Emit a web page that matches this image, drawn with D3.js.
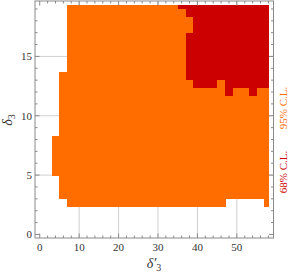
<!DOCTYPE html>
<html>
<head>
<meta charset="utf-8">
<script src="https://cdn.jsdelivr.net/npm/d3@7"></script>
<style>
  body { margin: 0; background: #fff; }
  svg text { font-family: "Liberation Serif", "Times New Roman", serif; }
</style>
</head>
<body>
<div id="chart"></div>
<script>
// grid points of the scan (delta'_3 along x, delta_3 along y)
var xVals = [0, 2, 4, 6, 8, 10, 12, 14, 16, 18, 20, 22, 24, 26, 28,
             30, 32, 34, 36, 38, 40, 42, 44, 46, 48, 50, 52, 54, 56, 58];
var yVals = [0, 2/3, 4/3, 2, 8/3, 10/3, 4, 14/3, 16/3, 6, 20/3, 22/3, 8, 26/3, 28/3,
             10, 32/3, 34/3, 12, 38/3, 40/3, 14, 44/3, 46/3, 16, 50/3, 52/3, 18, 56/3, 58/3];

// allowed level per grid point, top row first (y = 58/3 ... 0), groups of 5 columns
// "." = excluded, "o" = 95% C.L., "r" = 68% C.L.
var levels = [
  "....o ooooo ooooo ooorr rrrrr rrrrr",
  "....o ooooo ooooo oooor rrrrr rrrrr",
  "....o ooooo ooooo ooooo rrrrr rrrrr",
  "....o ooooo ooooo ooooo rrrrr rrrrr",
  "....o ooooo ooooo oooor rrrrr rrrrr",
  "....o ooooo ooooo oooor rrrrr rrrrr",
  "....o ooooo ooooo oooor rrrrr rrrrr",
  "....o ooooo ooooo oooor rrrrr rrrrr",
  "....o ooooo ooooo oooor rrrrr rrrrr",
  "...oo ooooo ooooo oooor rrrrr rrrrr",
  "...oo ooooo ooooo ooooo rrror rrrrr",
  "...oo ooooo ooooo ooooo oooor ooroo",
  "...oo ooooo ooooo ooooo ooooo ooooo",
  "...oo ooooo ooooo ooooo ooooo ooooo",
  "...oo ooooo ooooo ooooo ooooo ooooo",
  "...oo ooooo ooooo ooooo ooooo ooooo",
  "...oo ooooo ooooo ooooo ooooo ooooo",
  "..ooo ooooo ooooo ooooo ooooo ooooo",
  "..ooo ooooo ooooo ooooo ooooo ooooo",
  "..ooo ooooo ooooo ooooo ooooo ooooo",
  "..ooo ooooo ooooo ooooo ooooo ooooo",
  "..ooo ooooo ooooo ooooo ooooo ooooo",
  "...oo ooooo ooooo ooooo ooooo ooooo",
  "...oo ooooo ooooo ooooo ooooo ooooo",
  "...oo ooooo ooooo ooooo ooooo ooooo",
  "....o ooooo ooooo ooooo oooo. ....o",
  "..... ..... ..... ..... ..... .....",
  "..... ..... ..... ..... ..... .....",
  "..... ..... ..... ..... ..... .....",
  "..... ..... ..... ..... ..... ....."
];

var xMajor = [0, 10, 20, 30, 40, 50];
var yMajor = [0, 5, 10, 15];
var yMinorVals = [1, 2, 3, 4, 6, 7, 8, 9, 11, 12, 13, 14, 16, 17, 18, 19];
var levelNames = ["95% C.L.", "68% C.L."];
var levelColors = {o: "#ff6d00", r: "#cc0000"};

var width = 291, height = 276;
var pLeft = 35, pRight = 273.5, pTop = 1, pBottom = 238;

var x = d3.scaleLinear().domain([-1.2, 59.3]).range([pLeft, pRight]);
var y = d3.scaleLinear().domain([-0.3, 19.67]).range([pBottom, pTop]);

var svg = d3.select("#chart").append("svg")
  .attr("width", width)
  .attr("height", height);

// grid lines
svg.append("g").selectAll("line")
  .data(xMajor.slice(1))
  .enter().append("line")
  .attr("x1", function(d){ return x(d); })
  .attr("x2", function(d){ return x(d); })
  .attr("y1", pTop).attr("y2", pBottom)
  .attr("stroke", "#d0d0d0").attr("stroke-width", 1);
svg.append("g").selectAll("line")
  .data(yMajor.slice(1))
  .enter().append("line")
  .attr("y1", function(d){ return y(d); })
  .attr("y2", function(d){ return y(d); })
  .attr("x1", pLeft).attr("x2", pRight)
  .attr("stroke", "#d0d0d0").attr("stroke-width", 1);

// cells
var cells = [];
var nRows = yVals.length;
levels.forEach(function(rowStr, r){
  var row = rowStr.replace(/ /g, "");
  var j = nRows - 1 - r;
  for (var i = 0; i < row.length; i++) {
    if (row[i] !== ".") cells.push({i: i, j: j, lev: row[i]});
  }
});

var xStep = xVals[1] - xVals[0], yStep = yVals[1] - yVals[0];
var xMax = xVals[xVals.length - 1], yMax = yVals[yVals.length - 1];
function cx0(d){ return x(Math.max(xVals[d.i] - xStep / 2, 0)); }
function cx1(d){ return x(Math.min(xVals[d.i] + xStep / 2, xMax)); }
function cy0(d){ return y(Math.max(yVals[d.j] - yStep / 2, 0)); }
function cy1(d){ return y(Math.min(yVals[d.j] + yStep / 2, yMax)); }

svg.append("g").attr("shape-rendering", "crispEdges")
  .selectAll("rect")
  .data(cells)
  .enter().append("rect")
  .attr("x", cx0)
  .attr("width", function(d){ return cx1(d) - cx0(d) + 0.5; })
  .attr("y", cy1)
  .attr("height", function(d){ return cy0(d) - cy1(d) + 0.5; })
  .attr("fill", function(d){ return levelColors[d.lev]; });

// frame + ticks
var frameColor = "#8a8a8a";
function ticks(vals, len, side) {
  var g = svg.append("g").attr("stroke", frameColor).attr("stroke-width", 1);
  vals.forEach(function(v){
    if (side === "bottom") g.append("line").attr("x1", x(v)).attr("x2", x(v)).attr("y1", pBottom).attr("y2", pBottom - len);
    if (side === "top") g.append("line").attr("x1", x(v)).attr("x2", x(v)).attr("y1", pTop).attr("y2", pTop + len);
    if (side === "left") g.append("line").attr("y1", y(v)).attr("y2", y(v)).attr("x1", pLeft).attr("x2", pLeft + len);
    if (side === "right") g.append("line").attr("y1", y(v)).attr("y2", y(v)).attr("x1", pRight).attr("x2", pRight - len);
  });
}
var xMinor = xVals.filter(function(v){ return v % 10 !== 0; });
ticks(xMajor, 4.5, "bottom"); ticks(xMinor, 2.5, "bottom");
ticks(xMajor, 4.5, "top"); ticks(xMinor, 2.5, "top");
ticks(yMajor, 4.5, "left"); ticks(yMinorVals, 2.5, "left");
ticks(yMajor, 4.5, "right"); ticks(yMinorVals, 2.5, "right");

svg.append("rect")
  .attr("x", pLeft).attr("y", pTop)
  .attr("width", pRight - pLeft).attr("height", pBottom - pTop)
  .attr("fill", "none").attr("stroke", frameColor).attr("stroke-width", 1);

// tick labels
svg.append("g").selectAll("text")
  .data(xMajor).enter().append("text")
  .attr("x", function(d){ return x(d); })
  .attr("y", pBottom + 13)
  .attr("text-anchor", "middle")
  .attr("font-size", 11).attr("fill", "#333")
  .text(function(d){ return d; });
svg.append("g").selectAll("text")
  .data(yMajor).enter().append("text")
  .attr("x", pLeft - 3)
  .attr("y", function(d){ return y(d) + 4; })
  .attr("text-anchor", "end")
  .attr("font-size", 11).attr("fill", "#333")
  .text(function(d){ return d; });

// axis labels
var xl = svg.append("text")
  .attr("x", 154).attr("y", 268)
  .attr("text-anchor", "middle")
  .attr("font-size", 14).attr("fill", "#333");
xl.append("tspan").attr("font-style", "italic").text("δ′");
xl.append("tspan").attr("font-size", 10).attr("dy", 3).text("3");

var yl = svg.append("text")
  .attr("transform", "translate(12,120) rotate(-90)")
  .attr("text-anchor", "middle")
  .attr("font-size", 14).attr("fill", "#333");
yl.append("tspan").attr("font-style", "italic").text("δ");
yl.append("tspan").attr("font-size", 10).attr("dy", 3).text("3");

// level labels on the right
svg.append("text")
  .attr("transform", "translate(287,108) rotate(-90)")
  .attr("text-anchor", "middle")
  .attr("font-size", 11).attr("fill", levelColors.o)
  .text(levelNames[0]);
svg.append("text")
  .attr("transform", "translate(287,172) rotate(-90)")
  .attr("text-anchor", "middle")
  .attr("font-size", 11).attr("fill", levelColors.r)
  .text(levelNames[1]);
</script>
</body>
</html>
